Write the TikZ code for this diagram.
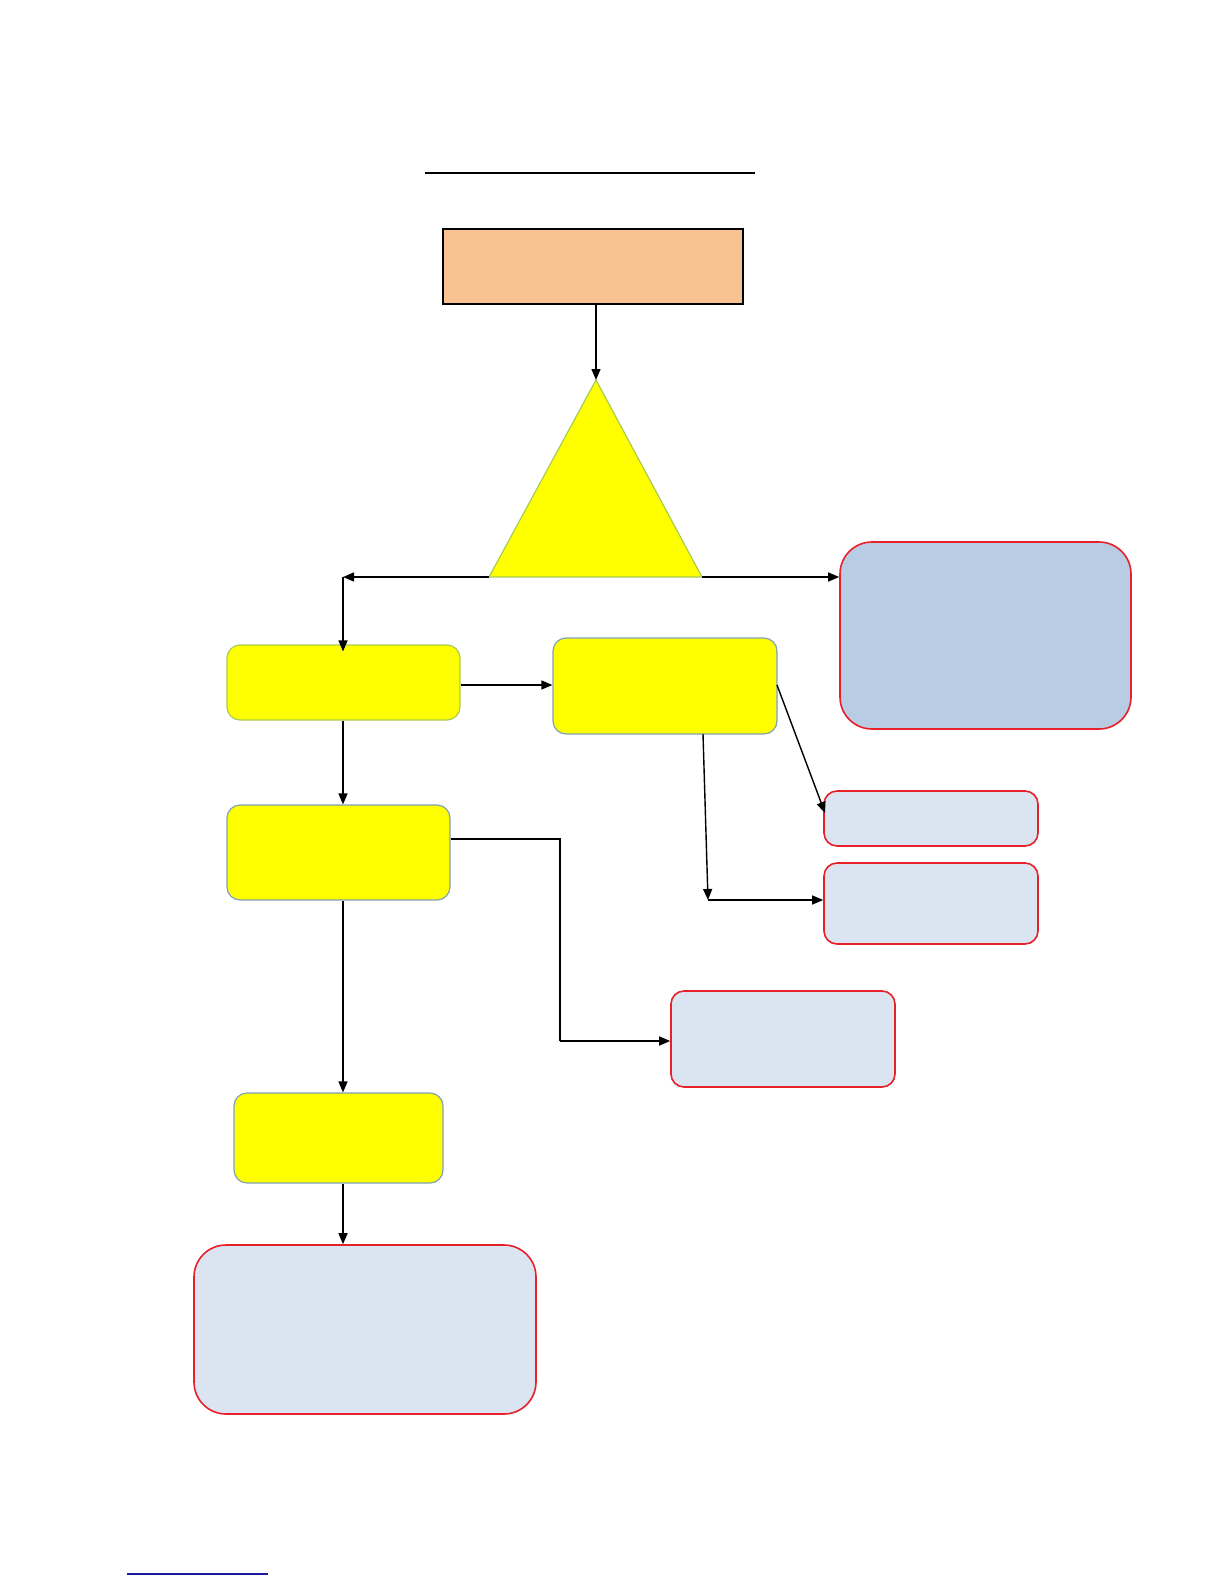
\documentclass[tikz,border=0pt]{standalone}
\usetikzlibrary{arrows.meta}
\definecolor{orangefill}{HTML}{F9C291}
\definecolor{lightblue}{HTML}{DBE5F1}
\definecolor{midblue}{HTML}{B8CCE4}
\definecolor{boxred}{HTML}{E8202A}
\definecolor{yelborder}{HTML}{7FA0B8}
\definecolor{greenborder}{HTML}{A8CC50}
\definecolor{footblue}{HTML}{1A1AA0}
\definecolor{pureyellow}{rgb}{1,1,0}
\tikzset{
  yelbox/.style={draw=yelborder, line width=1.2pt, fill=pureyellow, rounded corners=13pt, inner sep=0pt},
  bluebox/.style={draw=boxred, line width=1.6pt, fill=lightblue, rounded corners=13pt, inner sep=0pt},
  bigblue/.style={draw=boxred, line width=1.6pt, fill=midblue, rounded corners=32pt, inner sep=0pt},
  conn/.style={draw=black, line width=1.4pt},
  arr/.style={conn, -{Triangle[length=11pt,width=9pt]}}
}
\begin{document}
\begin{tikzpicture}[x=1pt,y=-1pt]
\useasboundingbox (0,0) rectangle (1224,1584);
% title rule
\coordinate (t1) at (425,173);
\coordinate (t2) at (755,173);
\draw[line width=2pt] (t1) -- (t2);
% orange box
\node[draw=black, line width=2pt, fill=orangefill, inner sep=0pt, minimum width=300pt, minimum height=75pt] (top) at (593,266.5) {};
% triangle
\coordinate (apex) at (596,380);
\coordinate (bl) at (489,577);
\coordinate (br) at (702,577);
\filldraw[fill=pureyellow, draw=greenborder, line width=1.2pt] (apex) -- (bl) -- (br) -- cycle;
% yellow boxes
\node[yelbox, draw=greenborder, minimum width=233pt, minimum height=75pt] (y1) at (343.5,682.5) {};
\node[yelbox, minimum width=224pt, minimum height=96pt] (y2) at (665,686) {};
\node[yelbox, minimum width=223pt, minimum height=95pt] (y3) at (338.5,852.5) {};
\node[yelbox, minimum width=209pt, minimum height=90pt] (y4) at (338.5,1138) {};
% blue boxes
\node[bigblue, minimum width=291pt, minimum height=187pt] (bb) at (985.5,635.5) {};
\node[bluebox, minimum width=214pt, minimum height=55pt] (s1) at (931,818.5) {};
\node[bluebox, minimum width=214pt, minimum height=81pt] (s2) at (931,903.5) {};
\node[bluebox, minimum width=224pt, minimum height=96pt] (m1) at (783,1039) {};
\node[bigblue, fill=lightblue, minimum width=342pt, minimum height=169pt] (bot) at (365,1329.5) {};
% connectors
\draw[arr] (top.south -| apex) -- (apex);
\coordinate (lc) at (343,577);
\draw[arr] (bl) -- (lc);
\draw[arr] (lc) -- ([yshift=-7pt]y1.north -| lc);
\draw[arr] (br) -- (bb.west |- br);
\coordinate (h1) at (461,685);
\draw[arr] (h1) -- (y2.west |- h1);
\draw[arr] (y1.south -| lc) -- (y3.north -| lc);
\coordinate (c3a) at (560,839);
\coordinate (c3b) at (560,1041);
\draw[conn] (y3.east |- c3a) -- (c3a) -- (c3b);
\draw[arr] (c3b) -- (m1.west |- c3b);
\draw[arr] (y3.south -| lc) -- (y4.north -| lc);
\draw[arr] (y4.south -| lc) -- (bot.north -| lc);
\coordinate (d1) at (777,685);
\draw[arr] (d1) -- (825,813);
\coordinate (d2) at (703,734);
\coordinate (d3) at (708,900);
\draw[arr] (d2) -- (d3);
\draw[arr] (d3) -- (s2.west |- d3);
% footer rule
\coordinate (f1) at (127,1574);
\coordinate (f2) at (268,1574);
\draw[footblue, line width=1.3pt] (f1) -- (f2);
\end{tikzpicture}
\end{document}
